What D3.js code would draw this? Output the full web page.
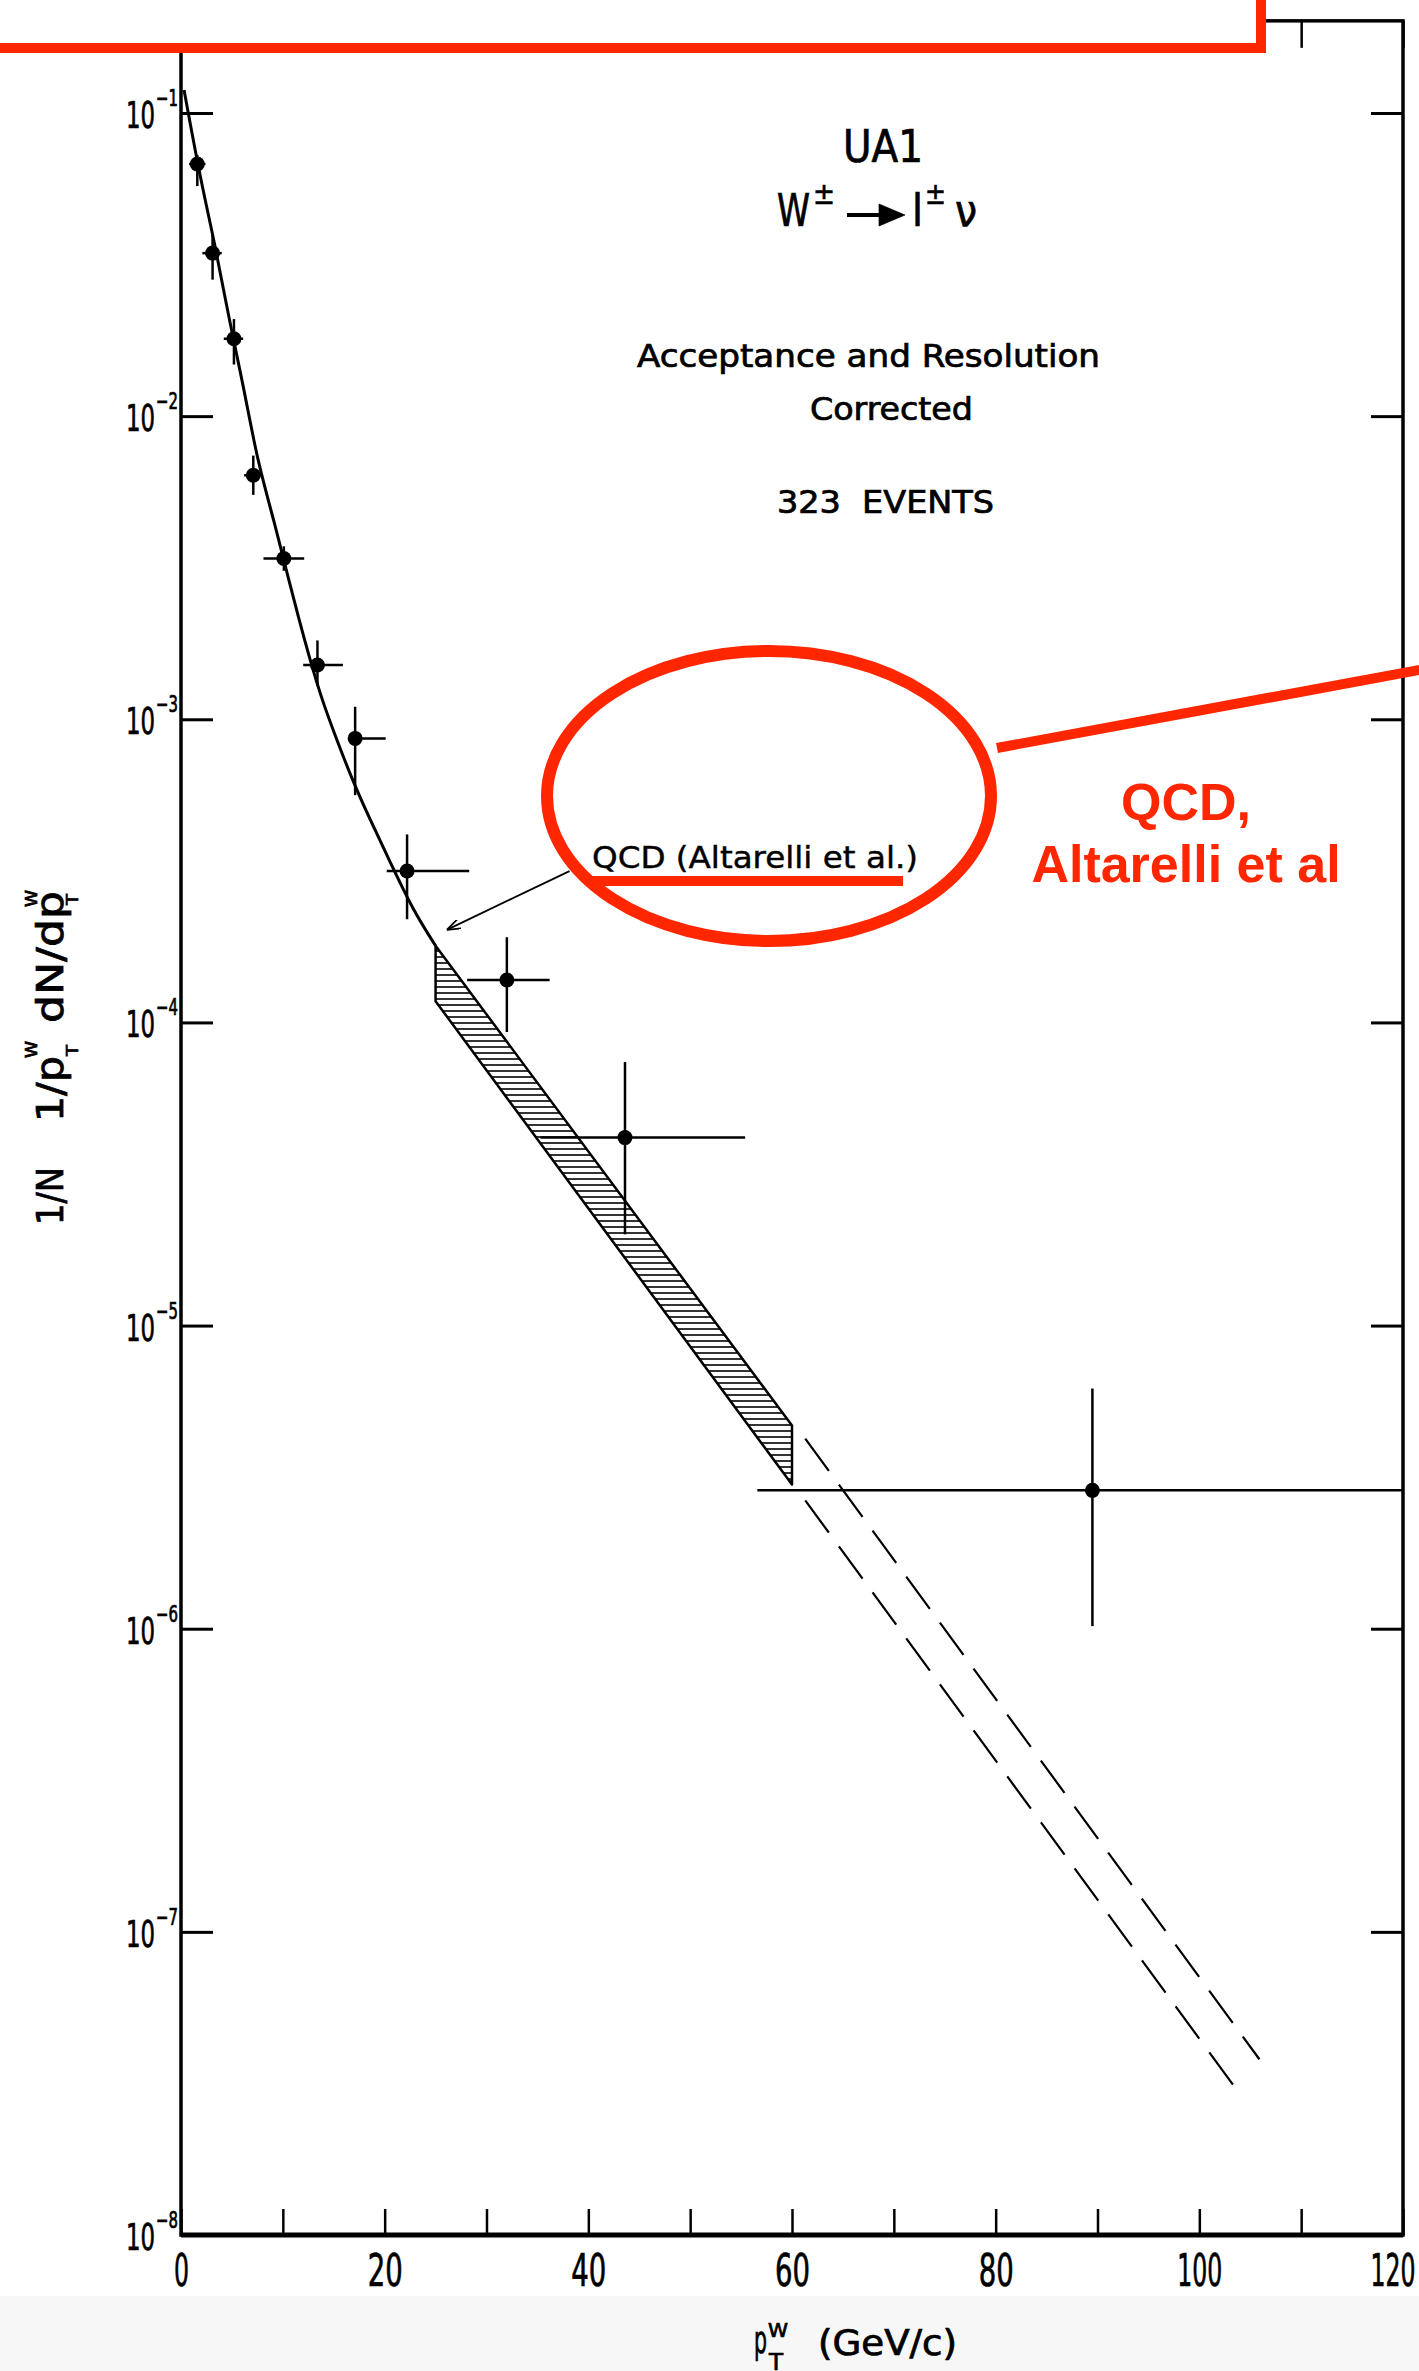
<!DOCTYPE html>
<html lang="en">
<head>
<meta charset="UTF-8">
<title>UA1 W pT spectrum</title>
<style>
  body { margin: 0; background: #fff; }
  svg { display: block; }
  .scan { font-family: 'DejaVu Sans Condensed', 'DejaVu Sans', sans-serif; fill: #000; stroke: #000; stroke-width: 0.7; }
  .red { font-family: 'Liberation Sans', Arial, Helvetica, sans-serif; font-weight: bold; fill: #ff2600; }
</style>
</head>
<body>
<script src="https://d3js.org/d3.v7.min.js"></script>
<svg id="chart"></svg>
<script>
// measured points (pT of the W, GeV/c) and 1/N 1/pT dN/dpT
var ptW    = [1.6, 3.1, 5.2, 7.1, 10.1, 13.4, 17.1, 22.2, 32.0, 43.6, 89.5];
var dens   = [0.0679, 0.0345, 0.0180, 0.00638, 0.00339, 0.00151, 0.000865, 0.000316, 0.000138, 4.17e-5, 2.86e-6];
var ptLo   = [0.8, 2.1, 4.2, 6.2, 8.1, 12.0, 16.5, 20.2, 28.1, 35.3, 56.6];
var ptHi   = [2.4, 4.0, 6.1, 8.0, 12.1, 15.9, 20.1, 28.3, 36.2, 55.4, 120];
var densLo = [0.0574, 0.0282, 0.0148, 0.0055, 0.00309, 0.00129, 0.000562, 0.000219, 9.3e-5, 2.0e-5, 1.02e-6];
var densHi = [0.0726, 0.0398, 0.0209, 0.00741, 0.00372, 0.00182, 0.0011, 0.000417, 0.000191, 7.4e-5, 6.2e-6];

// QCD curve (Altarelli et al.)
var qcdPt  = [0.3, 2.0, 3.3, 4.7, 6.2, 7.5, 9.2, 10.5, 12.1, 13.7, 15.4, 16.7, 18.4, 20.6, 22.8, 25.0];
var qcdVal = [0.119, 0.0583, 0.0375, 0.0210, 0.01227, 0.00711, 0.00444, 0.00295, 0.001837, 0.001189,
              0.000839, 0.000646, 0.000479, 0.000335, 0.000234, 0.000179];

// hatched uncertainty band and its dashed extrapolation
var bandPt = [25.0, 60.0];
var bandHi = [1.79e-4, 4.68e-6];
var bandLo = [1.175e-4, 2.99e-6];
var extHiPt = [61.3, 105.9], extHiVal = [4.24e-6, 3.8e-8];
var extLoPt = [61.3, 104.1], extLoVal = [2.65e-6, 2.88e-8];

var xTicks = d3.range(0, 121, 10);
var xLabels = [0, 20, 40, 60, 80, 100, 120];
var decades = [-1, -2, -3, -4, -5, -6, -7, -8];

var W = 1419, H = 2371;
var svg = d3.select("#chart").attr("width", W).attr("height", H);

var x = d3.scaleLinear().domain([0, 120]).range([181, 1403]);
var y = d3.scaleLog().domain([1e-8, 1e-1]).range([2235, 113]);
var yTopVal = Math.pow(10, -0.696);

// light grey strip at the bottom of the scan
svg.append("rect").attr("x", 0).attr("y", 2296).attr("width", W).attr("height", H - 2296).attr("fill", "#f7f7f7");

var defs = svg.append("defs");
defs.append("pattern")
    .attr("id", "hatch").attr("patternUnits", "userSpaceOnUse")
    .attr("width", 10).attr("height", 6)
  .append("line")
    .attr("x1", 0).attr("x2", 10).attr("y1", 3).attr("y2", 3)
    .attr("stroke", "#000").attr("stroke-width", 1.6);
defs.append("marker")
    .attr("id", "arr").attr("viewBox", "0 0 14 10").attr("refX", 14).attr("refY", 5)
    .attr("markerWidth", 14).attr("markerHeight", 10).attr("markerUnits", "userSpaceOnUse")
    .attr("orient", "auto")
  .append("path").attr("d", "M0,0 L14,5 L0,10").attr("fill", "none")
    .attr("stroke", "#000").attr("stroke-width", 1.8);

// frame
svg.append("rect")
    .attr("x", x(0)).attr("y", y(yTopVal))
    .attr("width", x(120) - x(0)).attr("height", y(1e-8) - y(yTopVal))
    .attr("fill", "none").attr("stroke", "#000").attr("stroke-width", 3.5);
svg.append("line")
    .attr("x1", x(0)).attr("x2", x(120)).attr("y1", y(1e-8)).attr("y2", y(1e-8))
    .attr("stroke", "#000").attr("stroke-width", 5);

// ticks
var decVals = decades.map(function(k) { return Math.pow(10, k); });
function styleAxis(g, w) {
    g.select(".domain").remove();
    g.selectAll(".tick line").attr("stroke", "#000").attr("stroke-width", w);
}
svg.append("g").call(d3.axisLeft(y).tickValues(decVals).tickSize(-32).tickFormat(""))
    .attr("transform", "translate(" + x(0) + ",0)").call(styleAxis, 3);
svg.append("g").call(d3.axisRight(y).tickValues(decVals).tickSize(-32).tickFormat(""))
    .attr("transform", "translate(" + x(120) + ",0)").call(styleAxis, 3);
svg.append("g").call(d3.axisTop(x).tickValues(xTicks).tickSize(-27).tickFormat(""))
    .attr("transform", "translate(0," + y(yTopVal) + ")").call(styleAxis, 2.5);
var xAxis = svg.append("g")
    .attr("transform", "translate(0," + y(1e-8) + ")")
    .call(d3.axisBottom(x).tickValues(xTicks).tickSize(-26)
        .tickFormat(function(d) { return xLabels.indexOf(d) >= 0 ? d : ""; }))
    .call(styleAxis, 2.5);
xAxis.selectAll(".tick text")
    .attr("class", "scan").attr("y", 51).attr("dy", 0)
    .attr("font-size", 44)
    .each(function(d) {
        if (xLabels.indexOf(d) >= 0) {
            var n = String(d).length;
            var t = d3.select(this).attr("textLength", n === 1 ? 15 : (n === 2 ? 35 : 45))
                .attr("lengthAdjust", "spacingAndGlyphs");
            // the last label sits flush with the right edge of the scan
            if (d === 120) t.attr("text-anchor", "end").attr("x", 12);
        }
    });

// y tick labels 10^k
var yl = svg.append("g").attr("class", "scan");
decades.forEach(function(k) {
    var ty = y(Math.pow(10, k));
    yl.append("text").attr("x", 155).attr("y", ty + 15).attr("text-anchor", "end")
        .attr("font-size", 38).attr("textLength", 29).attr("lengthAdjust", "spacingAndGlyphs").text("10");
    yl.append("text").attr("x", 156).attr("y", ty - 7)
        .attr("font-size", 23).attr("textLength", 22).attr("lengthAdjust", "spacingAndGlyphs").text("\u2212" + (-k));
});

// hatched band
var band = bandPt.map(function(p, i) { return [x(p), y(bandHi[i])]; })
    .concat(bandPt.slice().reverse().map(function(p, i) { return [x(p), y(bandLo[bandPt.length - 1 - i])]; }));
svg.append("path")
    .attr("d", "M" + band.join("L") + "Z")
    .attr("fill", "url(#hatch)").attr("stroke", "#000").attr("stroke-width", 2.5)
    .attr("stroke-linejoin", "round");

// dashed extrapolation
[[extHiPt, extHiVal], [extLoPt, extLoVal]].forEach(function(s) {
    svg.append("line")
        .attr("x1", x(s[0][0])).attr("y1", y(s[1][0]))
        .attr("x2", x(s[0][1])).attr("y2", y(s[1][1]))
        .attr("stroke", "#000").attr("stroke-width", 2.2).attr("stroke-dasharray", "40,17");
});

// QCD curve
var line = d3.line().x(function(d) { return x(d[0]); }).y(function(d) { return y(d[1]); })
    .curve(d3.curveBasis);
svg.append("path")
    .datum(qcdPt.map(function(p, i) { return [p, qcdVal[i]]; }))
    .attr("d", line).attr("fill", "none").attr("stroke", "#000").attr("stroke-width", 3);

// data points with error bars
var pts = ptW.map(function(p, i) {
    return {pt: p, v: dens[i], lo: ptLo[i], hi: ptHi[i], vlo: densLo[i], vhi: densHi[i]};
});
var pg = svg.append("g").attr("stroke", "#000").attr("stroke-width", 2.5);
pg.selectAll("line.h").data(pts).enter().append("line")
    .attr("x1", function(d) { return x(d.lo); }).attr("x2", function(d) { return x(d.hi); })
    .attr("y1", function(d) { return y(d.v); }).attr("y2", function(d) { return y(d.v); });
pg.selectAll("line.v").data(pts).enter().append("line")
    .attr("x1", function(d) { return x(d.pt); }).attr("x2", function(d) { return x(d.pt); })
    .attr("y1", function(d) { return y(d.vlo); }).attr("y2", function(d) { return y(d.vhi); });
svg.append("g").selectAll("circle").data(pts).enter().append("circle")
    .attr("cx", function(d) { return x(d.pt); }).attr("cy", function(d) { return y(d.v); })
    .attr("r", 7.5).attr("fill", "#000");

// QCD label and arrow
svg.append("line")
    .attr("x1", x(38.15)).attr("y1", y(3.155e-4))
    .attr("x2", x(26.1)).attr("y2", y(2.02e-4))
    .attr("stroke", "#000").attr("stroke-width", 1.8).attr("marker-end", "url(#arr)");
svg.append("text").attr("class", "scan").attr("x", 592).attr("y", 868)
    .attr("font-size", 31).attr("textLength", 326).attr("lengthAdjust", "spacingAndGlyphs")
    .style("stroke-width", 0.4)
    .text("QCD (Altarelli et al.)");

// title block
var tb = svg.append("g").attr("class", "scan");
tb.append("text").attr("x", 843).attr("y", 162).attr("font-size", 44)
    .attr("textLength", 80).attr("lengthAdjust", "spacingAndGlyphs").text("UA1");
tb.append("text").attr("x", 777).attr("y", 226).attr("font-size", 44)
    .attr("textLength", 33).attr("lengthAdjust", "spacingAndGlyphs").text("W");
tb.append("text").attr("x", 813).attr("y", 204).attr("font-size", 30)
    .attr("textLength", 22).attr("lengthAdjust", "spacingAndGlyphs").text("\u00b1");
tb.append("line").attr("x1", 847).attr("x2", 884).attr("y1", 215).attr("y2", 215)
    .attr("stroke", "#000").attr("stroke-width", 4);
tb.append("path").attr("d", "M879,204 L905,215 L879,226 Z").attr("fill", "#000");
tb.append("text").attr("x", 912).attr("y", 226).attr("font-size", 44)
    .attr("textLength", 11).attr("lengthAdjust", "spacingAndGlyphs").text("l");
tb.append("text").attr("x", 925).attr("y", 204).attr("font-size", 30)
    .attr("textLength", 21).attr("lengthAdjust", "spacingAndGlyphs").text("\u00b1");
tb.append("text").attr("x", 955).attr("y", 226).attr("font-size", 44)
    .attr("textLength", 22).attr("lengthAdjust", "spacingAndGlyphs").text("\u03bd");
tb.append("text").attr("x", 637).attr("y", 367).attr("font-size", 32)
    .attr("textLength", 463).attr("lengthAdjust", "spacingAndGlyphs").text("Acceptance and Resolution");
tb.append("text").attr("x", 810).attr("y", 420).attr("font-size", 32)
    .attr("textLength", 163).attr("lengthAdjust", "spacingAndGlyphs").text("Corrected");
tb.append("text").attr("x", 777).attr("y", 513).attr("font-size", 32)
    .attr("textLength", 217).attr("lengthAdjust", "spacingAndGlyphs").attr("xml:space", "preserve").text("323  EVENTS");

// y axis title, rotated (reads bottom to top)
var yt = svg.append("g").attr("class", "scan").attr("transform", "translate(63,1225) rotate(-90)");
yt.append("text").attr("x", 0).attr("y", 0).attr("font-size", 38)
    .attr("textLength", 58).attr("lengthAdjust", "spacingAndGlyphs").text("1/N");
yt.append("text").attr("x", 103).attr("y", 0).attr("font-size", 38)
    .attr("textLength", 66).attr("lengthAdjust", "spacingAndGlyphs").text("1/p");
yt.append("text").attr("x", 202).attr("y", 0).attr("font-size", 38)
    .attr("textLength", 132).attr("lengthAdjust", "spacingAndGlyphs").text("dN/dp");
[167, 318].forEach(function(px) {
    yt.append("text").attr("x", px).attr("y", -26).attr("font-size", 15)
        .attr("textLength", 17).attr("lengthAdjust", "spacingAndGlyphs").text("W");
    yt.append("text").attr("x", px + 2).attr("y", 15).attr("font-size", 15)
        .attr("textLength", 11).attr("lengthAdjust", "spacingAndGlyphs").text("T");
});

// x axis title
var xt = svg.append("g").attr("class", "scan");
xt.append("text").attr("x", 754).attr("y", 2353).attr("font-size", 38)
    .attr("textLength", 13).attr("lengthAdjust", "spacingAndGlyphs").text("p");
xt.append("text").attr("x", 768).attr("y", 2337).attr("font-size", 20)
    .attr("textLength", 20).attr("lengthAdjust", "spacingAndGlyphs").text("W");
xt.append("text").attr("x", 769).attr("y", 2370).attr("font-size", 23)
    .attr("textLength", 14).attr("lengthAdjust", "spacingAndGlyphs").text("T");
xt.append("text").attr("x", 818).attr("y", 2355).attr("font-size", 36)
    .attr("textLength", 139).attr("lengthAdjust", "spacingAndGlyphs").text("(GeV/c)");

// red annotation overlay
var red = "#ff2600";
svg.append("rect").attr("x", -20).attr("y", -20).attr("width", 1281).attr("height", 68)
    .attr("fill", "#fff").attr("stroke", red).attr("stroke-width", 10);
svg.append("ellipse").attr("cx", 769).attr("cy", 796).attr("rx", 222).attr("ry", 145)
    .attr("fill", "none").attr("stroke", red).attr("stroke-width", 12);
svg.append("line").attr("x1", 588).attr("x2", 903).attr("y1", 881).attr("y2", 881)
    .attr("stroke", red).attr("stroke-width", 10);
svg.append("line").attr("x1", 997).attr("y1", 748).attr("x2", 1430).attr("y2", 668)
    .attr("stroke", red).attr("stroke-width", 10);
svg.append("text").attr("class", "red").attr("x", 1186).attr("y", 820)
    .attr("text-anchor", "middle").attr("font-size", 52).text("QCD,");
svg.append("text").attr("class", "red").attr("x", 1186).attr("y", 882)
    .attr("text-anchor", "middle").attr("font-size", 52).text("Altarelli et al");
</script>
</body>
</html>
